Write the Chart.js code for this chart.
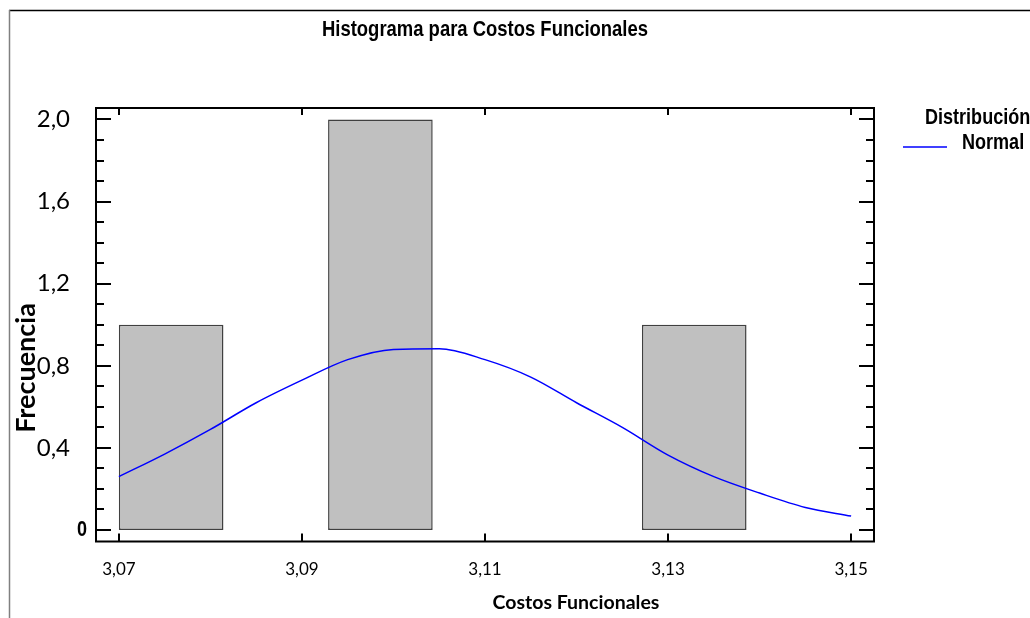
<!DOCTYPE html>
<html>
<head>
<meta charset="utf-8">
<script src="https://cdn.jsdelivr.net/npm/chart.js@4.4.0/dist/chart.umd.min.js"></script>
<style>
  html, body { margin: 0; padding: 0; background: #fff; }
</style>
</head>
<body>
<canvas id="histograma" width="1030" height="618"></canvas>
<script>
// Histograma: 7 clases de 3,07 a 3,15
const centrosClase = [3.07571, 3.08714, 3.09857, 3.11, 3.12143, 3.13286, 3.14429];
const frecuencias = [1, 0, 2, 0, 0, 1, 0];

// Curva normal ajustada
const curvaX = [3.070, 3.075, 3.080, 3.085, 3.090, 3.095, 3.100, 3.105, 3.110,
                3.115, 3.120, 3.125, 3.130, 3.135, 3.140, 3.145, 3.150];
const curvaY = [0.26, 0.37, 0.49, 0.62, 0.73, 0.83, 0.88, 0.883, 0.83,
                0.745, 0.62, 0.50, 0.365, 0.26, 0.18, 0.11, 0.068];

const ticksX = [3.07, 3.09, 3.11, 3.13, 3.15];
const ticksY = [0, 0.4, 0.8, 1.2, 1.6, 2.0];
const ticksYMenores = [0.1, 0.2, 0.3, 0.5, 0.6, 0.7, 0.9, 1.0, 1.1, 1.3, 1.4, 1.5, 1.7, 1.8, 1.9];

const fuenteArial = '"Liberation Sans", Arial, sans-serif';
const fuenteCalibri = 'Lato, "Open Sans", sans-serif';

// texto tipo Arial Narrow: Arial comprimido al 82%
function textoNarrow(c, txt, x, y, size, align) {
    c.save();
    c.font = 'bold ' + size + 'px ' + fuenteArial;
    c.textAlign = align;
    c.textBaseline = 'middle';
    c.translate(x, y);
    c.scale(0.82, 1);
    c.fillText(txt, 0, 0);
    c.restore();
}

const marco = {
    id: 'marco',
    beforeDraw(chart) {
        const c = chart.ctx;
        c.save();
        c.fillStyle = '#fff';
        c.fillRect(0, 0, chart.width, chart.height);
        // borde exterior
        c.strokeStyle = '#000';
        c.lineWidth = 1.5;
        c.beginPath();
        c.moveTo(9, 10.5);
        c.lineTo(1030, 10.5);
        c.stroke();
        c.strokeStyle = '#808080';
        c.beginPath();
        c.moveTo(9.5, 10);
        c.lineTo(9.5, 618);
        c.stroke();
        c.restore();
    },
    afterDraw(chart) {
        const c = chart.ctx;
        const a = chart.chartArea;
        const sx = chart.scales.x, sy = chart.scales.y;
        c.save();
        c.strokeStyle = '#000';
        c.lineWidth = 2;
        c.strokeRect(a.left, a.top, a.right - a.left, a.bottom - a.top);

        c.beginPath();
        ticksY.forEach(v => {
            const y = Math.round(sy.getPixelForValue(v));
            c.moveTo(a.left, y); c.lineTo(a.left + 15, y);
            c.moveTo(a.right, y); c.lineTo(a.right - 15, y);
        });
        ticksYMenores.forEach(v => {
            const y = Math.round(sy.getPixelForValue(v));
            c.moveTo(a.left, y); c.lineTo(a.left + 8, y);
            c.moveTo(a.right, y); c.lineTo(a.right - 8, y);
        });
        ticksX.forEach(v => {
            const x = Math.round(sx.getPixelForValue(v));
            c.moveTo(x, a.top); c.lineTo(x, a.top + 7);
            c.moveTo(x, a.bottom); c.lineTo(x, a.bottom - 8);
        });
        c.stroke();

        c.fillStyle = '#000';
        // titulo
        textoNarrow(c, 'Histograma para Costos Funcionales', (a.left + a.right) / 2, 30, 22.5, 'center');

        // etiqueta 0 del eje Y
        textoNarrow(c, '0', 87, sy.getPixelForValue(0), 22, 'right');

        // titulo eje X
        c.font = 'bold 19.5px ' + fuenteCalibri;
        c.textAlign = 'center';
        c.textBaseline = 'middle';
        c.fillText('Costos Funcionales', 576, 603);

        // titulo eje Y
        c.save();
        c.translate(26, 368);
        c.rotate(-Math.PI / 2);
        c.font = 'bold 27px ' + fuenteCalibri;
        c.fillText('Frecuencia', 0, 0);
        c.restore();

        // leyenda
        textoNarrow(c, 'Distribución', 925, 118, 22, 'left');
        textoNarrow(c, 'Normal', 962, 143, 22, 'left');
        c.strokeStyle = '#0000ff';
        c.lineWidth = 1.5;
        c.beginPath();
        c.moveTo(903, 147);
        c.lineTo(947, 147);
        c.stroke();
        c.restore();
    }
};

const grafico = new Chart(document.getElementById('histograma'), {
    data: {
        datasets: [{
            type: 'line',
            label: 'Normal',
            data: curvaX.map((x, i) => ({ x: x, y: curvaY[i] })),
            borderColor: '#0000ff',
            borderWidth: 1.5,
            pointRadius: 0,
            cubicInterpolationMode: 'monotone',
            order: 0
        }, {
            type: 'bar',
            label: 'Frecuencia',
            data: centrosClase.map((x, i) => ({ x: x, y: frecuencias[i] })),
            backgroundColor: ctx => (ctx.raw && ctx.raw.y > 0 ? '#c0c0c0' : 'rgba(0,0,0,0)'),
            borderColor: '#404040',
            borderWidth: ctx => (ctx.raw && ctx.raw.y > 0 ? 1.5 : 0),
            borderSkipped: false,
            inflateAmount: 0,
            barPercentage: 1,
            categoryPercentage: 1,
            order: 1
        }]
    },
    options: {
        responsive: false,
        animation: false,
        devicePixelRatio: 1,
        layout: { padding: { top: 108, right: 156, bottom: 0, left: 0 } },
        plugins: {
            legend: { display: false },
            title: { display: false },
            tooltip: { enabled: false }
        },
        scales: {
            x: {
                type: 'linear',
                min: 3.0675,
                max: 3.1525,
                offset: false,
                grid: { display: false, drawTicks: false },
                border: { display: false },
                ticks: {
                    color: '#000',
                    font: { family: fuenteCalibri, size: 17 },
                    padding: 18,
                    maxRotation: 0,
                    autoSkip: false,
                    callback: v => v.toFixed(2).replace('.', ',')
                },
                afterBuildTicks: s => { s.ticks = ticksX.map(v => ({ value: v })); },
                afterFit: s => { s.height = 76.5; }
            },
            y: {
                min: -0.056,
                max: 2.056,
                grid: { display: false, drawTicks: false },
                border: { display: false },
                ticks: {
                    color: '#000',
                    font: { family: fuenteCalibri, size: 24 },
                    padding: 26,
                    callback: v => (v === 0 ? '' : v.toFixed(1).replace('.', ','))
                },
                afterBuildTicks: s => { s.ticks = ticksY.map(v => ({ value: v })); },
                afterFit: s => { s.width = 96; }
            }
        }
    },
    plugins: [marco]
});
</script>
</body>
</html>
